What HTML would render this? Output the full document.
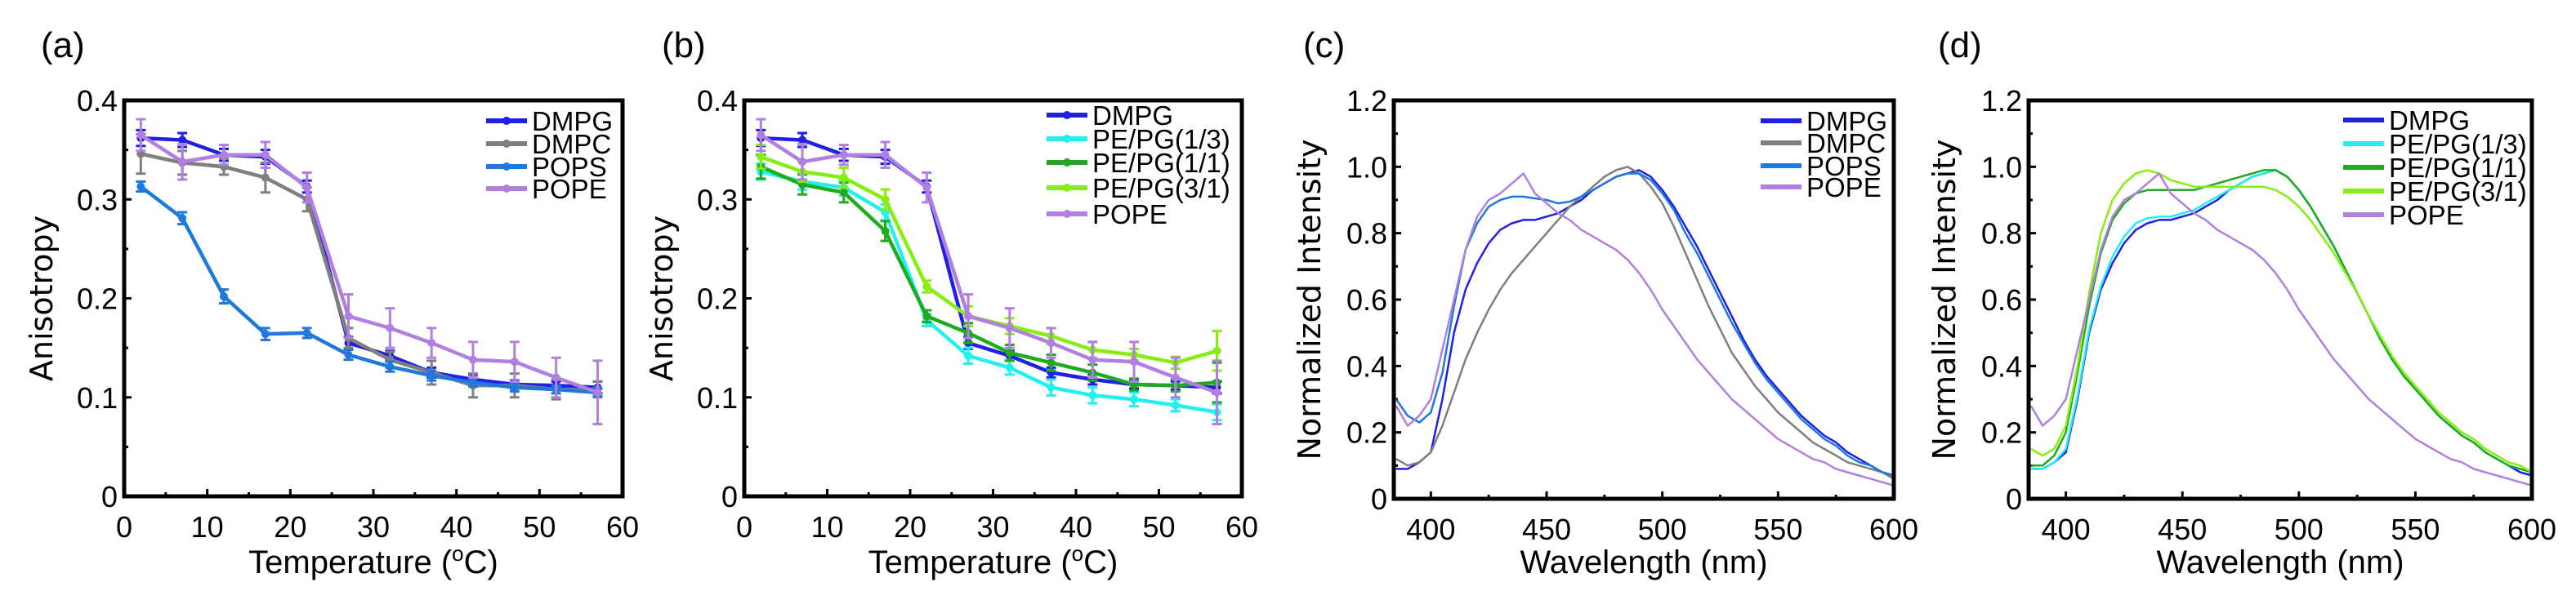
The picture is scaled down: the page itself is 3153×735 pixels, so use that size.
<!DOCTYPE html>
<html><head><meta charset="utf-8">
<style>
html,body{margin:0;padding:0;background:#fff;}
svg{display:block;font-family:"Liberation Sans",sans-serif;}
</style></head>
<body>
<svg id="fig" width="3153" height="735" viewBox="0 0 3153 735" xmlns="http://www.w3.org/2000/svg"></svg>
<script>
// ---------- data ----------
const temps = [2,7,12,17,22,27,32,37,42,47,52,57];
const aDMPG = [.362,.360,.345,.343,.313,.155,.142,.125,.118,.113,.112,.110];
const aDMPC = [.346,.337,.333,.322,.300,.160,.138,.125,.112,.112,.108,.108];
const aPOPS = [.313,.281,.202,.164,.165,.143,.131,.122,.115,.110,.108,.105];
const aPOPE = [.365,.338,.345,.345,.312,.182,.170,.155,.138,.136,.120,.105];
const eDMPG = [.008,.007,.006,.007,.006,.006,.005,.005,.005,.004,.004,.006];
const eDMPC = [.02,.012,.008,.015,.012,.01,.008,.012,.012,.012,.01,.008];
const ePOPS = [.005,.006,.007,.006,.005,.005,.005,.005,.004,.004,.004,.004];
const ePOPE = [.016,.018,.01,.013,.015,.022,.02,.015,.018,.02,.02,.032];
const bPG13 = [.328,.318,.312,.287,.178,.142,.130,.110,.102,.098,.092,.085];
const bPG11 = [.333,.315,.307,.268,.182,.165,.145,.135,.125,.113,.112,.115];
const bPG31 = [.343,.328,.322,.300,.212,.182,.172,.162,.148,.143,.135,.147];
const eSmall = [.008,.008,.008,.008,.006,.008,.007,.008,.008,.007,.006,.008];
const eMid = [.012,.01,.01,.01,.006,.01,.008,.008,.008,.006,.006,.02];

const waves = [385,390,395,400,405,410,415,420,425,430,435,440,445,450,455,460,465,470,475,480,485,490,495,500,505,510,515,520,525,530,535,540,545,550,555,560,565,570,575,580,585,590,595,600];
const sDMPG = [.09,.09,.11,.14,.30,.50,.63,.71,.77,.81,.83,.84,.84,.85,.86,.88,.90,.93,.95,.97,.98,.99,.97,.93,.88,.82,.76,.69,.62,.55,.48,.42,.37,.33,.29,.25,.22,.19,.17,.14,.12,.10,.08,.07];
const sDMPC = [.12,.10,.11,.14,.22,.32,.42,.50,.57,.63,.68,.72,.76,.80,.84,.88,.91,.94,.97,.99,1.0,.98,.94,.89,.82,.74,.66,.58,.51,.44,.39,.34,.30,.26,.23,.20,.17,.15,.13,.11,.10,.09,.08,.06];
const sPOPS = [.30,.25,.23,.26,.38,.58,.75,.83,.88,.90,.91,.91,.905,.90,.89,.895,.91,.93,.95,.97,.98,.98,.96,.92,.87,.80,.74,.67,.60,.53,.47,.41,.36,.32,.28,.24,.21,.18,.16,.13,.11,.10,.08,.07];
const sPOPE = [.28,.22,.25,.30,.45,.60,.75,.85,.90,.92,.95,.98,.92,.89,.86,.84,.81,.79,.77,.75,.72,.68,.63,.57,.52,.47,.42,.38,.34,.30,.27,.24,.21,.18,.16,.14,.12,.11,.09,.08,.07,.06,.05,.04];
const sPG13 = [.09,.09,.11,.15,.31,.51,.64,.73,.79,.83,.845,.85,.85,.86,.87,.89,.91,.93,.95,.97,.98,.99,.97,.93,.88,.82,.76,.69,.62,.55,.48,.42,.37,.33,.29,.25,.22,.19,.17,.14,.12,.10,.09,.08];
const sPG11 = [.10,.10,.13,.20,.38,.58,.74,.84,.89,.92,.93,.93,.93,.93,.93,.94,.95,.96,.97,.98,.99,.99,.97,.93,.88,.82,.76,.69,.62,.55,.48,.42,.37,.33,.29,.25,.22,.19,.17,.14,.12,.10,.09,.08];
const sPG31 = [.15,.13,.15,.22,.40,.62,.80,.90,.95,.98,.99,.98,.96,.95,.94,.94,.94,.94,.94,.94,.94,.93,.91,.88,.84,.79,.74,.68,.62,.55,.49,.43,.38,.34,.30,.26,.23,.20,.18,.15,.13,.11,.10,.08];

const tempTicks = [0,10,20,30,40,50,60];
const anisoTicks = [0,0.1,0.2,0.3,0.4];
const anisoLabels = ["0","0.1","0.2","0.3","0.4"];
const waveTicks = [400,450,500,550,600];
const intTicks = [0,0.2,0.4,0.6,0.8,1.0,1.2];
const intLabels = ["0","0.2","0.4","0.6","0.8","1.0","1.2"];

const C = {DMPG:"#1f1fe6",DMPC:"#7f7f7f",POPS:"#1f78dc",POPE:"#b07fe0",PG13:"#22f0f0",PG11:"#1eac1e",PG31:"#86ee10"};

// ---------- helpers ----------
const NS="http://www.w3.org/2000/svg";
const svg=document.getElementById('fig');
function mk(tag,attrs,parent){const e=document.createElementNS(NS,tag);for(const k in attrs)e.setAttribute(k,attrs[k]);(parent||svg).appendChild(e);return e;}
function scale(d0,d1,r0,r1){return v=>r0+(v-d0)/(d1-d0)*(r1-r0);}

function panel(p){
  const g=mk('g',{});
  
  
  const X=scale(p.xd[0],p.xd[1],p.L,p.R), Y=scale(p.yd[0],p.yd[1],p.B,p.T);
  const lt=mk('text',{x:p.letterX,y:70,'font-size':44},g);lt.textContent=p.letter;
  
  
  const xt=p.xticks;
  xt.forEach((v,i)=>{
    const x=X(v);
    mk('line',{x1:x,x2:x,y1:p.B,y2:p.B-9,stroke:'#000','stroke-width':3},g);
    if(i<xt.length-1){const xm=X((v+xt[i+1])/2);mk('line',{x1:xm,x2:xm,y1:p.B,y2:p.B-5,stroke:'#000','stroke-width':3},g);}
    const t=mk('text',{x:x,y:p.B+50,'font-size':36,'text-anchor':'middle'},g);t.textContent=v;
    
    
  });
  p.yticks.forEach((v,i)=>{
    const y=Y(v);
    mk('line',{x1:p.L,x2:p.L+9,y1:y,y2:y,stroke:'#000','stroke-width':3},g);
    if(i<p.yticks.length-1){const ym=Y((v+p.yticks[i+1])/2);mk('line',{x1:p.L,x2:p.L+5,y1:ym,y2:ym,stroke:'#000','stroke-width':3},g);}
    const t=mk('text',{x:p.L-8,y:y+13,'font-size':36,'text-anchor':'end'},g);t.textContent=p.ylabels[i];
    
    
  });
  const xtit=mk('text',{x:(p.L+p.R)/2,y:702,'font-size':40,'text-anchor':'middle'},g);
  xtit.innerHTML=p.xtitle;
  
  
  const ytit=mk('text',{x:0,y:0,'font-size':38,'font-family':'DejaVu Sans, sans-serif','text-anchor':'middle',transform:`translate(${p.L-p.ytOff},${(p.T+p.B)/2}) rotate(-90)`},g);
  ytit.textContent=p.ytitle;
  
  
  p.series.forEach(s=>{
    const sg=mk('g',{},g);
    
    
    const pts=s.y.map((v,i)=>X(s.x[i]).toFixed(1)+','+Y(v).toFixed(1)).join(' ');
    if(s.err){
      s.y.forEach((v,i)=>{
        const x=X(s.x[i]),y1=Y(v+s.err[i]),y2=Y(v-s.err[i]);
        mk('line',{x1:x,x2:x,y1:y1,y2:y2,stroke:s.c,'stroke-width':3},sg);
        mk('line',{x1:x-6,x2:x+6,y1:y1,y2:y1,stroke:s.c,'stroke-width':3},sg);
        mk('line',{x1:x-6,x2:x+6,y1:y2,y2:y2,stroke:s.c,'stroke-width':3},sg);
      });
    }
    const pl=mk('polyline',{points:pts,fill:'none',stroke:s.c,'stroke-width':p.lw,'stroke-linejoin':'round'},sg);
    
    
    if(s.err){
      s.y.forEach((v,i)=>{
        const m=mk('circle',{cx:X(s.x[i]),cy:Y(v),r:5,fill:s.c},sg);
        
        
      });
    }
  });
  mk('rect',{x:p.L,y:p.T,width:p.R-p.L,height:p.B-p.T,fill:'none',stroke:'#000','stroke-width':5},g);
  const lg=mk('g',{},g);
  
  
  p.series.forEach((s,i)=>{
    const y=p.legY[i];
    const e=mk('g',{},lg);
    
    
    mk('line',{x1:p.legX,x2:p.legX+50,y1:y,y2:y,stroke:s.c,'stroke-width':6},e);
    if(s.err) mk('circle',{cx:p.legX+25,cy:y,r:5,fill:s.c},e);
    const t=mk('text',{x:p.legX+56,y:y+12,'font-size':33},e);t.textContent=s.label;
  });
}

const T=123,B=608;
panel({name:'panel-a',letter:'(a)',letterX:50,L:152,R:762,T:T,B:B,xd:[0,60],yd:[0,0.4],xticks:tempTicks,yticks:anisoTicks,ylabels:anisoLabels,
  xtitle:'Temperature (<tspan baseline-shift="super" font-size="26">o</tspan>C)',ytitle:'Anisotropy',ytOff:88,lw:4.5,
  legX:595,legY:[148,176,204,231],
  series:[{label:'DMPG',c:C.DMPG,x:temps,y:aDMPG,err:eDMPG},{label:'DMPC',c:C.DMPC,x:temps,y:aDMPC,err:eDMPC},
          {label:'POPS',c:C.POPS,x:temps,y:aPOPS,err:ePOPS},{label:'POPE',c:C.POPE,x:temps,y:aPOPE,err:ePOPE}]});
panel({name:'panel-b',letter:'(b)',letterX:810,L:911,R:1520,T:T,B:B,xd:[0,60],yd:[0,0.4],xticks:tempTicks,yticks:anisoTicks,ylabels:anisoLabels,
  xtitle:'Temperature (<tspan baseline-shift="super" font-size="26">o</tspan>C)',ytitle:'Anisotropy',ytOff:88,lw:4.5,
  legX:1281,legY:[141,170,199,230,262],
  series:[{label:'DMPG',c:C.DMPG,x:temps,y:aDMPG,err:eDMPG},{label:'PE/PG(1/3)',c:C.PG13,x:temps,y:bPG13,err:eSmall},
          {label:'PE/PG(1/1)',c:C.PG11,x:temps,y:bPG11,err:eMid},{label:'PE/PG(3/1)',c:C.PG31,x:temps,y:bPG31,err:eMid},
          {label:'POPE',c:C.POPE,x:temps,y:aPOPE,err:ePOPE}]});
panel({name:'panel-c',letter:'(c)',letterX:1595,L:1706,R:2318,T:T,B:B+3,xd:[384,600],yd:[0,1.2],xticks:waveTicks,yticks:intTicks,ylabels:intLabels,
  xtitle:'Wavelength (nm)',ytitle:'Normalized Intensity',ytOff:90,lw:2.5,
  legX:2155,legY:[148,175,203,229],
  series:[{label:'DMPG',c:C.DMPG,x:waves,y:sDMPG},{label:'DMPC',c:C.DMPC,x:waves,y:sDMPC},
          {label:'POPS',c:C.POPS,x:waves,y:sPOPS},{label:'POPE',c:C.POPE,x:waves,y:sPOPE}]});
panel({name:'panel-d',letter:'(d)',letterX:2372,L:2483,R:3099,T:T,B:B+3,xd:[384,600],yd:[0,1.2],xticks:waveTicks,yticks:intTicks,ylabels:intLabels,
  xtitle:'Wavelength (nm)',ytitle:'Normalized Intensity',ytOff:90,lw:2.5,
  legX:2868,legY:[147,176,205,234,263],
  series:[{label:'DMPG',c:C.DMPG,x:waves,y:sDMPG},{label:'PE/PG(1/3)',c:C.PG13,x:waves,y:sPG13},
          {label:'PE/PG(1/1)',c:C.PG11,x:waves,y:sPG11},{label:'PE/PG(3/1)',c:C.PG31,x:waves,y:sPG31},
          {label:'POPE',c:C.POPE,x:waves,y:sPOPE}]});
</script>
</body></html>
